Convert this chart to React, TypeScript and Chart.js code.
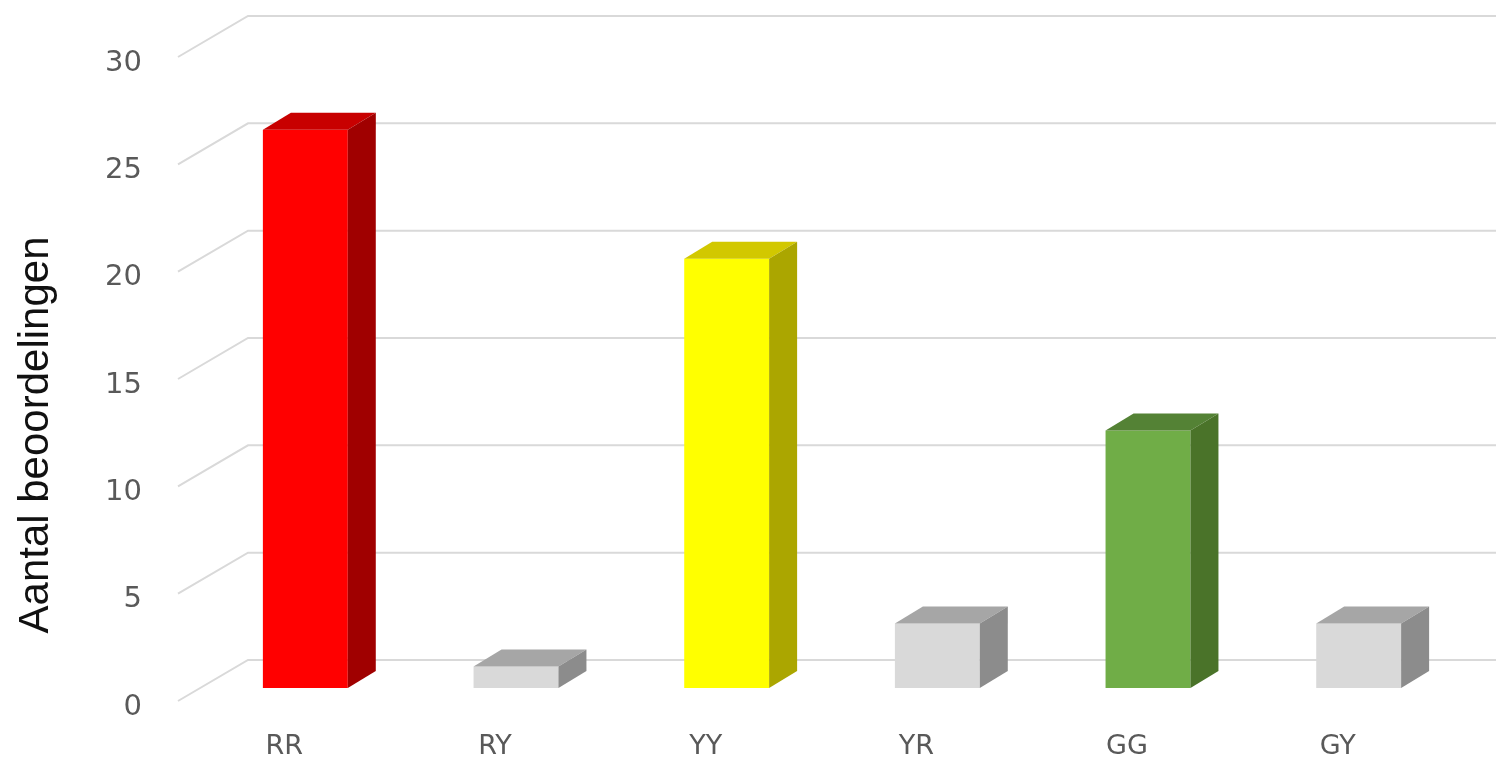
import React, { useEffect, useRef } from "react";
import { Chart, registerables } from "chart.js";

Chart.register(...registerables);

const categories = ["RR", "RY", "YY", "YR", "GG", "GY"];
const values = [26, 1, 20, 3, 12, 3];
const frontColors = ["#ff0000", "#d9d9d9", "#ffff00", "#d9d9d9", "#70ad47", "#d9d9d9"];
const topColors = ["#c80000", "#a6a6a6", "#d2c800", "#a6a6a6", "#548235", "#a6a6a6"];
const sideColors = ["#a00000", "#8c8c8c", "#aba600", "#8c8c8c", "#4a7329", "#8c8c8c"];
const yMin = 0;
const yMax = 30;
const yStep = 5;
const yAxisTitle = "Aantal beoordelingen";

const BAR_DX = 28;
const BAR_DY = -17;
const WALL_DX = 48;
const WALL_DY = -28;
const AXIS_DX = -22;
const AXIS_DY = 13;

const threeDPlugin = {
  id: "threeD",
  beforeDatasetsDraw(chart: any) {
    const { ctx, chartArea, scales } = chart;
    const ys = scales.y;
    ctx.save();
    ctx.strokeStyle = "#d9d9d9";
    ctx.lineWidth = 2;
    for (let v = yMin; v <= yMax; v += yStep) {
      const py = ys.getPixelForValue(v);
      ctx.beginPath();
      ctx.moveTo(chartArea.left + AXIS_DX, py + AXIS_DY);
      ctx.lineTo(chartArea.left + WALL_DX, py + WALL_DY);
      ctx.lineTo(chart.width + 10, py + WALL_DY);
      ctx.stroke();
    }
    ctx.restore();
  },
  afterDatasetsDraw(chart: any) {
    const { ctx } = chart;
    const meta = chart.getDatasetMeta(0);
    ctx.save();
    meta.data.forEach((el: any, i: number) => {
      const { x, y, base, width } = el.getProps(["x", "y", "base", "width"], true);
      const l = x - width / 2;
      const r = x + width / 2;
      ctx.fillStyle = topColors[i];
      ctx.beginPath();
      ctx.moveTo(l, y);
      ctx.lineTo(l + BAR_DX, y + BAR_DY);
      ctx.lineTo(r + BAR_DX, y + BAR_DY);
      ctx.lineTo(r, y);
      ctx.closePath();
      ctx.fill();
      ctx.fillStyle = sideColors[i];
      ctx.beginPath();
      ctx.moveTo(r, y);
      ctx.lineTo(r + BAR_DX, y + BAR_DY);
      ctx.lineTo(r + BAR_DX, base + BAR_DY);
      ctx.lineTo(r, base);
      ctx.closePath();
      ctx.fill();
    });
    ctx.restore();
  },
  afterDraw(chart: any) {
    const { ctx } = chart;
    ctx.save();
    ctx.translate(36, 435);
    ctx.rotate(-Math.PI / 2);
    ctx.fillStyle = "#111111";
    ctx.font = "42px 'Liberation Sans', Arial, sans-serif";
    ctx.textAlign = "center";
    ctx.textBaseline = "middle";
    ctx.fillText(yAxisTitle, 0, 0);
    ctx.restore();
  },
};

export default function App() {
  const ref = useRef<HTMLCanvasElement | null>(null);
  useEffect(() => {
    if (!ref.current) return;
    const chart = new Chart(ref.current, {
      type: "bar",
      data: {
        labels: categories,
        datasets: [
          {
            data: values,
            backgroundColor: frontColors,
            borderWidth: 0,
            barPercentage: 0.403,
            categoryPercentage: 1,
          },
        ],
      },
      options: {
        responsive: false,
        animation: false,
        layout: { padding: { left: 0, top: 44, right: 32, bottom: 0 } },
        plugins: { legend: { display: false }, tooltip: { enabled: false }, title: { display: false } },
        scales: {
          x: {
            grid: { display: false, drawTicks: false },
            border: { display: false },
            ticks: {
              color: "#595959",
              font: { family: "'DejaVu Sans'", size: 27 },
              padding: 43,
              labelOffset: -21,
              maxRotation: 0,
            },
            afterFit: (s: any) => {
              s.height = 70;
              s.paddingLeft = 0;
              s.paddingRight = 0;
            },
          },
          y: {
            min: yMin,
            max: yMax,
            grid: { display: false, drawTicks: false },
            border: { display: false },
            ticks: {
              stepSize: yStep,
              color: "#595959",
              font: { family: "'DejaVu Sans'", size: 29 },
              padding: 58,
              labelOffset: 19,
            },
            afterFit: (s: any) => {
              s.width = 200;
              s.paddingTop = 0;
              s.paddingBottom = 0;
            },
          },
        },
      },
      plugins: [threeDPlugin],
    } as any);
    return () => chart.destroy();
  }, []);
  return (
    <div style={{ position: "fixed", left: 0, top: 0, width: 1496, height: 758, background: "#fff" }}>
      <canvas ref={ref} width={1496} height={758} style={{ display: "block" }} />
    </div>
  );
}
